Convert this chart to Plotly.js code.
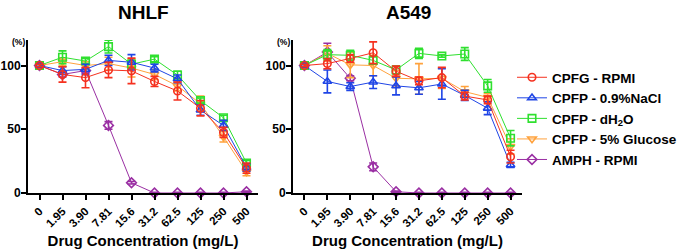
<!DOCTYPE html>
<html>
<head>
<meta charset="utf-8">
<script src="https://cdn.plot.ly/plotly-3.0.1.min.js"></script>
<style>html,body{margin:0;padding:0;background:#fff}#chart{width:685px;height:251px}</style>
</head>
<body>
<div id="chart"></div>
<script>
var categories = ['0','1.95','3.90','7.81','15.6','31.2','62.5','125','250','500'];
var seriesNames = ['CPFG - RPMI','CPFP - 0.9%NaCl','CPFP - dH<sub>2</sub>O','CPFP - 5% Glucose','AMPH - RPMI'];

// NHLF panel
var nhlfRpmi      = [100, 93, 90.5, 96.5, 95.8, 87.5, 80, 66.5, 47.5, 19.5];
var nhlfRpmiErr   = [1, 6, 8, 6, 10, 4, 7, 6, 4, 4];
var nhlfNaCl      = [100, 96, 97, 104, 102.5, 98, 89.5, 65, 53, 20];
var nhlfNaClErr   = [1, 3, 4, 4, 6, 3, 3, 4, 4, 3];
var nhlfWater     = [100, 106.5, 103.5, 114.8, 101, 105, 92.5, 72.5, 59, 23.5];
var nhlfWaterErr  = [1, 5, 2, 5, 3, 2, 3, 2, 2, 2];
var nhlfGlucose   = [100, 103, 100, 101.5, 98, 93, 84, 70, 44, 16.5];
var nhlfGlucoseErr= [1, 3, 3, 5, 7, 4, 4, 6, 4, 3];
var nhlfAmph      = [100, 93, 96, 53, 8, 0, 0, 0, 0, 1];
var nhlfAmphErr   = [1, 2, 2, 3, 1, 0.5, 0.5, 0.5, 0.5, 0.5];

// A549 panel
var a549Rpmi      = [100, 101.5, 105.5, 110, 95.5, 88, 90.5, 76, 73, 28.5];
var a549RpmiErr   = [1, 4, 3, 8.5, 4, 3, 8, 3, 3, 5];
var a549NaCl      = [100, 87.5, 83.5, 87, 84, 82.5, 85.5, 76.5, 66.5, 22];
var a549NaClErr   = [1, 9, 3, 5, 7, 5, 12, 4, 5, 2];
var a549Water     = [100, 108.5, 108, 104, 96.5, 109.5, 107.5, 109, 84, 43];
var a549WaterErr  = [1, 4, 4, 3, 3, 4, 1, 5, 5, 6];
var a549Glucose   = [100, 109.5, 100.5, 100, 90, 89.5, 90, 79.5, 75, 36.5];
var a549GlucoseErr= [1, 6, 10, 8, 6, 12, 8, 4, 3, 6];
var a549Amph      = [100, 110.5, 90, 20.5, 1, 0, 0, 0, 0, 0];
var a549AmphErr   = [1, 7, 2, 3, 0.5, 0.5, 0.5, 0.5, 0.5, 0.5];

var colors  = ['#f5311f', '#1f45e6', '#2fe02f', '#ffa23d', '#9a2fa3'];
var symbols = ['circle-open', 'triangle-up-open', 'square-open', 'triangle-down-open', 'diamond-open'];

var nhlf = [[nhlfRpmi,nhlfRpmiErr],[nhlfNaCl,nhlfNaClErr],[nhlfWater,nhlfWaterErr],[nhlfGlucose,nhlfGlucoseErr],[nhlfAmph,nhlfAmphErr]];
var a549 = [[a549Rpmi,a549RpmiErr],[a549NaCl,a549NaClErr],[a549Water,a549WaterErr],[a549Glucose,a549GlucoseErr],[a549Amph,a549AmphErr]];

var FONT = 'Arial, "Liberation Sans", Helvetica, sans-serif';
var traces = [];
function add(panel, xa, ya, show) {
  for (var i = panel.length - 1; i >= 0; i--) {
    traces.push({
      type: 'scatter', mode: 'lines+markers',
      x: categories, y: panel[i][0],
      xaxis: xa, yaxis: ya,
      name: seriesNames[i], legendgroup: 'g' + i, showlegend: show,
      legendrank: i + 1,
      cliponaxis: false,
      line: {color: colors[i], width: 1},
      marker: {symbol: symbols[i], size: 7.5, color: colors[i], line: {width: 1.6, color: colors[i]}},
      error_y: {type: 'data', array: panel[i][1], visible: true, color: colors[i], thickness: 1.6, width: 4}
    });
  }
}
add(nhlf, 'x', 'y', true);
add(a549, 'x2', 'y2', false);

var xCommon = {
  type: 'category', range: [-0.5, 9.5], tickangle: -45,
  showline: true, linecolor: '#000', linewidth: 2,
  ticks: 'outside', ticklen: 5, tickwidth: 2, tickcolor: '#000',
  showgrid: false, zeroline: false,
  tickfont: {family: FONT, size: 11.5, color: '#000', weight: 'bold'},
  title: {text: 'Drug Concentration (mg/L)', font: {family: FONT, size: 15, color: '#000', weight: 'bold'}, standoff: 7}
};
var yCommon = {
  range: [0, 120], tickvals: [0, 50, 100], ticktext: ['0', '50', '100'],
  showline: true, linecolor: '#000', linewidth: 2,
  ticks: 'outside', ticklen: 5, tickwidth: 2, tickcolor: '#000',
  showgrid: false, zeroline: false, ticklabelstandoff: -2,
  tickfont: {family: FONT, size: 12, color: '#000', weight: 'bold'}
};

var layout = {
  width: 685, height: 251,
  margin: {l: 0, r: 0, t: 0, b: 0},
  paper_bgcolor: '#fff', plot_bgcolor: '#fff',
  showlegend: true,
  xaxis: Object.assign({}, xCommon, {domain: [28/685, 258/685], anchor: 'y'}),
  xaxis2: Object.assign({}, xCommon, {domain: [293/685, 522/685], anchor: 'y2'}),
  yaxis: Object.assign({}, yCommon, {domain: [58/251, 211/251], anchor: 'x'}),
  yaxis2: Object.assign({}, yCommon, {domain: [58/251, 211/251], anchor: 'x2'}),
  legend: {
    x: 512/685, xanchor: 'left', y: 1 - 62/251, yanchor: 'top',
    font: {family: FONT, size: 13.5, color: '#000', weight: 'bold'},
    traceorder: 'normal', bgcolor: 'rgba(0,0,0,0)', itemwidth: 30, tracegroupgap: 0
  },
  annotations: [
    {text: 'NHLF', xref: 'paper', yref: 'paper', x: 143/685, y: 1 - 13/251, xanchor: 'center', yanchor: 'middle', showarrow: false,
     font: {family: FONT, size: 19, color: '#000', weight: 'bold'}},
    {text: 'A549', xref: 'paper', yref: 'paper', x: 408/685, y: 1 - 13/251, xanchor: 'center', yanchor: 'middle', showarrow: false,
     font: {family: FONT, size: 19, color: '#000', weight: 'bold'}},
    {text: '(%)', xref: 'paper', yref: 'paper', x: 18/685, y: 1 - 42/251, xanchor: 'center', yanchor: 'middle', showarrow: false,
     font: {family: FONT, size: 8.5, color: '#000', weight: 'bold'}},
    {text: '(%)', xref: 'paper', yref: 'paper', x: 283/685, y: 1 - 42/251, xanchor: 'center', yanchor: 'middle', showarrow: false,
     font: {family: FONT, size: 8.5, color: '#000', weight: 'bold'}}
  ]
};

Plotly.newPlot('chart', traces, layout, {displayModeBar: false, staticPlot: true});
</script>
</body>
</html>
